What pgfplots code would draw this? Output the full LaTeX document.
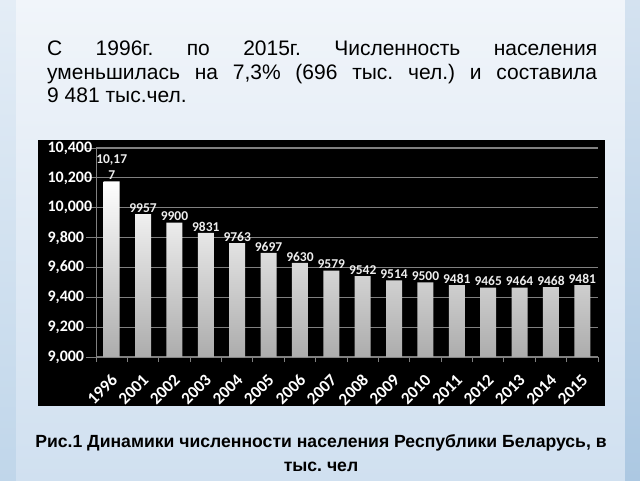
\documentclass[border=0pt]{standalone}
\usepackage{pgfplots}
\pgfplotsset{compat=1.18}
\usepackage{fontspec}
\setmainfont{Liberation Sans}
\newfontfamily\calibri{Carlito}
\definecolor{bgTop}{RGB}{241,245,250}
\definecolor{bgBot}{RGB}{208,224,240}
\definecolor{edgeTop}{RGB}{228,237,246}
\definecolor{edgeBot}{RGB}{192,214,234}
\definecolor{redgeTop}{RGB}{212,226,240}
\definecolor{redgeBot}{RGB}{172,200,226}
\definecolor{gridgray}{RGB}{128,128,128}
\definecolor{barbot}{RGB}{172,172,172}
\definecolor{labwhite}{RGB}{238,238,238}
\begin{document}
\frenchspacing
\begin{tikzpicture}[x=1pt,y=1pt]
\useasboundingbox (0,0) rectangle (640,480);
\shade[top color=edgeTop, bottom color=edgeBot] (0,0) rectangle (16,480);
\shade[shading angle=15, top color=bgTop, bottom color=bgBot] (16,0) rectangle (625,480);
\shade[top color=redgeTop, bottom color=redgeBot] (625,0) rectangle (640,480);
\fill[black] (38,74) rectangle (605,340);
\node[anchor=north west, text width=550pt, align=justify, inner sep=0pt,
      font=\fontsize{21}{23.5}\selectfont] at (47,439)
  {\frenchspacing\hyphenpenalty=10000 С 1996г. по 2015г. Численность населения\linebreak
   уменьшилась на 7,3\% (696 тыс. чел.) и составила\linebreak
   9 481 тыс.чел.};
\node[align=center, inner sep=0pt, font=\bfseries\fontsize{17.6}{24}\selectfont]
  at (321,27) {Рис.1 Динамики численности населения Республики Беларусь, в\\тыс. чел};
\begin{axis}[
  at={(96pt,123pt)}, anchor=south west,
  scale only axis, width=502pt, height=209pt,
  xmin=-0.5, xmax=15.5, ymin=9000, ymax=10400,
  ytick={9000,9200,...,10400},
  scaled y ticks=false,
  xtick={0,...,15},
  xticklabels={1996,2001,2002,2003,2004,2005,2006,2007,2008,2009,2010,2011,2012,2013,2014,2015},
  minor xtick={-0.5,0.5,...,15.5},
  axis x line*=bottom, axis y line*=left,
  axis line style={gridgray, line width=1pt, -},
  ymajorgrids, grid style={gridgray, line width=1.2pt},
  tick align=outside,
  minor tick length=5pt,
  major tick length=10pt,
  major x tick style={draw=none},
  minor x tick style={gridgray, line width=0.8pt},
  ytick style={gridgray, line width=1pt},
  /pgf/number format/.cd, 1000 sep={,}, assume math mode=true,
  /pgfplots/.cd,
  yticklabel style={font=\calibri\bfseries\fontsize{16}{16}\selectfont, text=white, anchor=west, xshift=-42pt},
  xticklabel style={font=\calibri\bfseries\fontsize{17}{17}\selectfont, text=white, rotate=45, anchor=north east, xshift=-2pt, yshift=0pt},
]
\addplot[ybar, bar width=16pt, draw=none, top color=white, bottom color=barbot,
  nodes near coords, point meta=explicit symbolic,
  nodes near coords style={font=\calibri\bfseries\fontsize{13.5}{16}\selectfont, text=labwhite, align=center, inner sep=1.5pt}]
  coordinates {
  (0,10177) [{10,17\\7}]
  (1,9957) [9957]
  (2,9900) [9900]
  (3,9831) [9831]
  (4,9763) [9763]
  (5,9697) [9697]
  (6,9630) [9630]
  (7,9579) [9579]
  (8,9542) [9542]
  (9,9514) [9514]
  (10,9500) [9500]
  (11,9481) [9481]
  (12,9465) [9465]
  (13,9464) [9464]
  (14,9468) [9468]
  (15,9481) [9481]
  };
\end{axis}
\end{tikzpicture}
\end{document}
